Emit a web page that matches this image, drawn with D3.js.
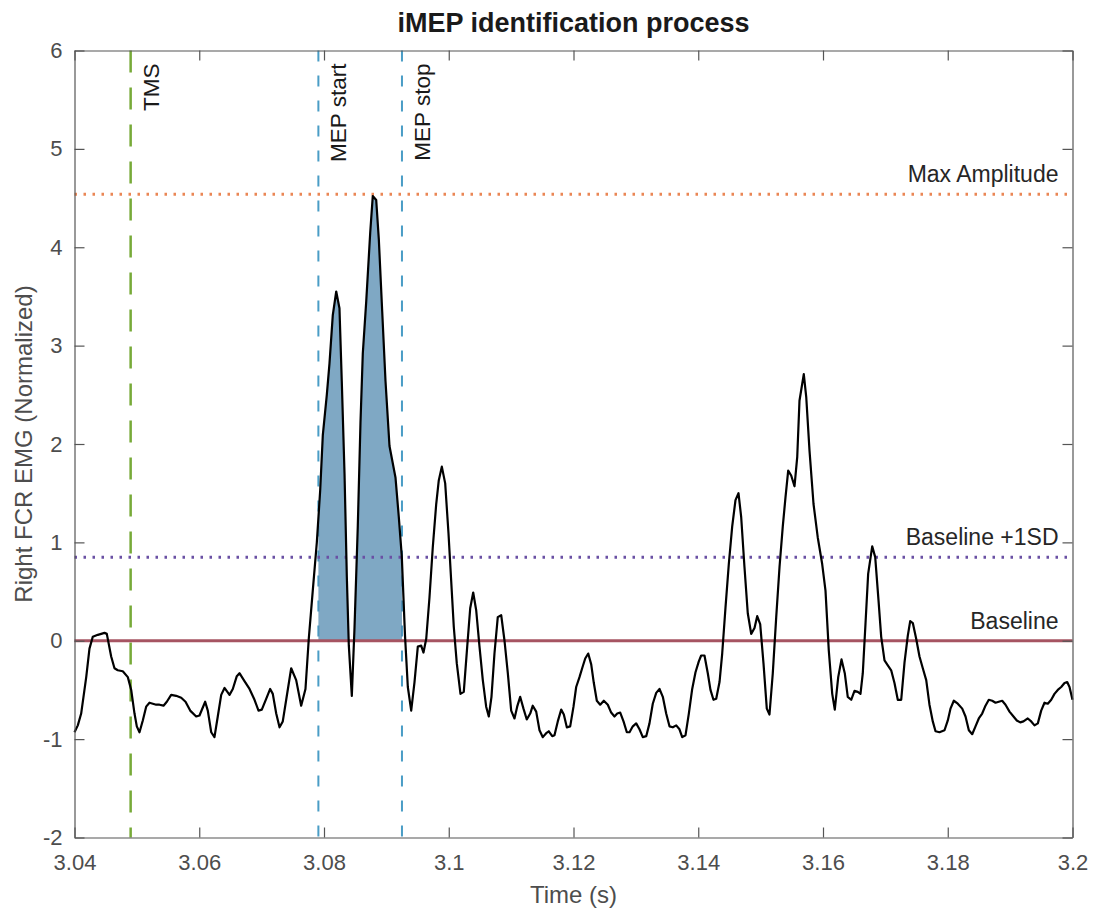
<!DOCTYPE html>
<html>
<head>
<meta charset="utf-8">
<script src="https://cdn.jsdelivr.net/npm/d3@7"></script>
<style>
  body { margin: 0; background: #fff; }
  text { font-family: "Liberation Sans", Arial, Helvetica, sans-serif; }
</style>
</head>
<body>
<div id="chart"></div>
<script>
// EMG trace (time in s, amplitude normalized)
const times = [
  3.04000, 3.04053, 3.04107, 3.04188, 3.04240, 3.04293, 3.04374, 3.04428, 3.04481, 3.04518,
  3.04588, 3.04641, 3.04694, 3.04774, 3.04855, 3.04909, 3.04962, 3.04999, 3.05042, 3.05095,
  3.05149, 3.05202, 3.05310, 3.05363, 3.05427, 3.05480, 3.05550, 3.05630, 3.05711, 3.05780,
  3.05855, 3.05951, 3.06004, 3.06095, 3.06137, 3.06192, 3.06244, 3.06297, 3.06352, 3.06405,
  3.06485, 3.06538, 3.06602, 3.06645, 3.06725, 3.06806, 3.06886, 3.06950, 3.07003, 3.07073,
  3.07137, 3.07179, 3.07234, 3.07287, 3.07339, 3.07394, 3.07474, 3.07554, 3.07634, 3.07703,
  3.07756, 3.07820, 3.07885, 3.07939, 3.07981, 3.08045, 3.08088, 3.08141, 3.08196, 3.08248,
  3.08285, 3.08329, 3.08366, 3.08398, 3.08446, 3.08489, 3.08542, 3.08585, 3.08622, 3.08677,
  3.08741, 3.08782, 3.08837, 3.08879, 3.08933, 3.08986, 3.09050, 3.09146, 3.09199, 3.09247,
  3.09299, 3.09344, 3.09398, 3.09451, 3.09504, 3.09558, 3.09595, 3.09639, 3.09691, 3.09744,
  3.09799, 3.09840, 3.09889, 3.09943, 3.09996, 3.10039, 3.10081, 3.10129, 3.10188, 3.10241,
  3.10296, 3.10344, 3.10392, 3.10440, 3.10493, 3.10546, 3.10600, 3.10642, 3.10685, 3.10733,
  3.10786, 3.10841, 3.10894, 3.10947, 3.11001, 3.11054, 3.11097, 3.11145, 3.11198, 3.11251,
  3.11306, 3.11347, 3.11402, 3.11455, 3.11508, 3.11562, 3.11604, 3.11659, 3.11695, 3.11748,
  3.11803, 3.11845, 3.11893, 3.11947, 3.12000, 3.12043, 3.12096, 3.12139, 3.12188, 3.12236,
  3.12284, 3.12326, 3.12374, 3.12428, 3.12486, 3.12550, 3.12604, 3.12657, 3.12701, 3.12749,
  3.12802, 3.12855, 3.12898, 3.12951, 3.13005, 3.13058, 3.13111, 3.13166, 3.13218, 3.13271,
  3.13326, 3.13379, 3.13432, 3.13486, 3.13539, 3.13592, 3.13647, 3.13699, 3.13743, 3.13796,
  3.13849, 3.13903, 3.13956, 3.14009, 3.14047, 3.14100, 3.14153, 3.14196, 3.14244, 3.14288,
  3.14341, 3.14384, 3.14437, 3.14490, 3.14544, 3.14597, 3.14645, 3.14688, 3.14741, 3.14794,
  3.14849, 3.14902, 3.14945, 3.14993, 3.15046, 3.15099, 3.15142, 3.15195, 3.15250, 3.15303,
  3.15355, 3.15399, 3.15442, 3.15490, 3.15543, 3.15587, 3.15623, 3.15692, 3.15731, 3.15784,
  3.15848, 3.15916, 3.15987, 3.16040, 3.16093, 3.16148, 3.16189, 3.16244, 3.16297, 3.16349,
  3.16397, 3.16452, 3.16505, 3.16558, 3.16601, 3.16638, 3.16681, 3.16724, 3.16789, 3.16837,
  3.16890, 3.16933, 3.16986, 3.17039, 3.17093, 3.17146, 3.17199, 3.17254, 3.17307, 3.17359,
  3.17398, 3.17440, 3.17494, 3.17547, 3.17600, 3.17655, 3.17707, 3.17760, 3.17804, 3.17868,
  3.17948, 3.18001, 3.18044, 3.18097, 3.18161, 3.18232, 3.18285, 3.18338, 3.18392, 3.18445,
  3.18498, 3.18552, 3.18605, 3.18658, 3.18713, 3.18766, 3.18818, 3.18873, 3.18926, 3.18990,
  3.19054, 3.19107, 3.19162, 3.19214, 3.19283, 3.19338, 3.19391, 3.19444, 3.19498, 3.19551,
  3.19604, 3.19659, 3.19711, 3.19764, 3.19819, 3.19872, 3.19915, 3.19952, 3.20000
];
const emg = [
  -0.93, -0.86, -0.74, -0.37, -0.08, 0.04, 0.06, 0.07, 0.08, 0.07,
  -0.16, -0.28, -0.30, -0.31, -0.37, -0.50, -0.74, -0.87, -0.93, -0.81,
  -0.67, -0.63, -0.65, -0.65, -0.66, -0.62, -0.55, -0.56, -0.58, -0.62,
  -0.71, -0.77, -0.76, -0.62, -0.71, -0.93, -0.98, -0.77, -0.55, -0.48,
  -0.55, -0.49, -0.36, -0.33, -0.41, -0.49, -0.60, -0.71, -0.70, -0.59,
  -0.49, -0.54, -0.74, -0.88, -0.82, -0.60, -0.28, -0.40, -0.66, -0.49,
  0.02, 0.51, 1.00, 1.53, 2.09, 2.50, 2.82, 3.31, 3.55, 3.38,
  2.64, 1.70, 0.65, -0.05, -0.56, 0.13, 1.17, 2.22, 2.92, 3.45,
  4.15, 4.52, 4.48, 4.08, 3.35, 2.64, 1.98, 1.66, 1.26, 0.86,
  0.05, -0.47, -0.71, -0.42, -0.06, -0.05, -0.12, 0.02, 0.44, 0.95,
  1.39, 1.63, 1.77, 1.60, 1.09, 0.61, 0.14, -0.23, -0.54, -0.52,
  -0.06, 0.33, 0.49, 0.31, -0.06, -0.40, -0.67, -0.77, -0.57, -0.13,
  0.24, 0.26, 0.00, -0.33, -0.71, -0.79, -0.67, -0.57, -0.69, -0.80,
  -0.74, -0.66, -0.72, -0.91, -0.98, -0.94, -0.92, -0.97, -0.96, -0.82,
  -0.70, -0.75, -0.88, -0.87, -0.67, -0.47, -0.37, -0.28, -0.18, -0.13,
  -0.24, -0.43, -0.61, -0.65, -0.61, -0.65, -0.73, -0.77, -0.74, -0.73,
  -0.82, -0.93, -0.93, -0.87, -0.84, -0.90, -0.98, -0.97, -0.84, -0.64,
  -0.53, -0.49, -0.57, -0.74, -0.87, -0.88, -0.86, -0.90, -0.98, -0.96,
  -0.74, -0.49, -0.32, -0.21, -0.15, -0.15, -0.33, -0.50, -0.60, -0.59,
  -0.42, -0.13, 0.34, 0.78, 1.16, 1.43, 1.50, 1.26, 0.75, 0.28,
  0.07, 0.13, 0.25, 0.17, -0.23, -0.69, -0.75, -0.33, 0.24, 0.75,
  1.16, 1.46, 1.73, 1.68, 1.57, 1.87, 2.44, 2.71, 2.48, 1.93,
  1.39, 1.05, 0.78, 0.51, -0.10, -0.54, -0.70, -0.37, -0.19, -0.33,
  -0.57, -0.60, -0.51, -0.52, -0.54, -0.33, 0.17, 0.68, 0.96, 0.85,
  0.41, 0.04, -0.20, -0.25, -0.30, -0.43, -0.60, -0.60, -0.22, 0.05,
  0.20, 0.18, 0.02, -0.16, -0.28, -0.40, -0.65, -0.82, -0.92, -0.93,
  -0.91, -0.81, -0.69, -0.61, -0.64, -0.69, -0.77, -0.91, -0.95, -0.87,
  -0.79, -0.74, -0.66, -0.60, -0.61, -0.63, -0.62, -0.61, -0.65, -0.72,
  -0.77, -0.81, -0.83, -0.82, -0.79, -0.82, -0.86, -0.84, -0.71, -0.63,
  -0.64, -0.60, -0.54, -0.50, -0.47, -0.43, -0.42, -0.47, -0.60
];

// event markers (s) and reference levels
const markerNames = ["TMS", "MEP start", "MEP stop"];
const markerTimes = [3.0490, 3.0791, 3.0925];
const levelNames = ["Max Amplitude", "Baseline +1SD", "Baseline"];
const levelValues = [4.54, 0.85, 0];

const xTicks = [3.04, 3.06, 3.08, 3.1, 3.12, 3.14, 3.16, 3.18, 3.2];
const yTicks = [-2, -1, 0, 1, 2, 3, 4, 5, 6];

const W = 1094, H = 909;
const margin = { top: 50.5, right: 21.5, bottom: 71.5, left: 74.5 };
const width = W - margin.left - margin.right;
const height = H - margin.top - margin.bottom;

const svg = d3.select("#chart").append("svg")
  .attr("width", W)
  .attr("height", H);

const g = svg.append("g")
  .attr("transform", "translate(" + margin.left + "," + margin.top + ")");

const x = d3.scaleLinear().domain([3.04, 3.2]).range([0, width]);
const y = d3.scaleLinear().domain([-2, 6]).range([height, 0]);

const data = times.map((t, i) => ({ t: t, v: emg[i] }));

// vertical markers (under the shaded area)
const markerStyle = [
  { color: "#77aa38", dash: "22,15", w: 2.5 },
  { color: "#4a9dc6", dash: "11,14", w: 2 },
  { color: "#4a9dc6", dash: "11,14", w: 2 }
];
markerTimes.forEach((t, i) => {
  g.append("line")
    .attr("x1", x(t)).attr("x2", x(t))
    .attr("y1", 0).attr("y2", height)
    .attr("stroke", markerStyle[i].color)
    .attr("stroke-width", markerStyle[i].w)
    .attr("stroke-dasharray", markerStyle[i].dash);
});

// shaded MEP: area between trace and baseline, inside start/stop, above zero
svg.append("defs").append("clipPath").attr("id", "mepClip")
  .append("rect")
  .attr("x", x(markerTimes[1]))
  .attr("y", 0)
  .attr("width", x(markerTimes[2]) - x(markerTimes[1]))
  .attr("height", y(0));

const area = d3.area()
  .x(d => x(d.t))
  .y0(y(0))
  .y1(d => y(d.v));

g.append("path")
  .datum(data)
  .attr("clip-path", "url(#mepClip)")
  .attr("fill", "rgb(84,139,176)")
  .attr("fill-opacity", 0.75)
  .attr("d", area);

// horizontal levels
const levelStyle = [
  { color: "#ea8655", dash: "2.5,6.5", w: 3 },
  { color: "#6a50a4", dash: "2.5,6.5", w: 3 },
  { color: "#a65462", dash: null, w: 3 }
];
levelValues.forEach((v, i) => {
  g.append("line")
    .attr("x1", 0).attr("x2", width)
    .attr("y1", y(v)).attr("y2", y(v))
    .attr("stroke", levelStyle[i].color)
    .attr("stroke-width", levelStyle[i].w)
    .attr("stroke-dasharray", levelStyle[i].dash);
  g.append("text")
    .attr("x", width - 14)
    .attr("y", y(v) - 12)
    .attr("text-anchor", "end")
    .attr("font-size", 23)
    .attr("fill", "#262626")
    .text(levelNames[i]);
});

// the trace
const line = d3.line()
  .x(d => x(d.t))
  .y(d => y(d.v));

g.append("path")
  .datum(data)
  .attr("fill", "none")
  .attr("stroke", "#000")
  .attr("stroke-width", 2.2)
  .attr("stroke-linejoin", "round")
  .attr("d", line);

// marker labels, rotated
markerTimes.forEach((t, i) => {
  g.append("text")
    .attr("transform", "translate(" + (x(t) + 28) + "," + 13 + ") rotate(-90)")
    .attr("text-anchor", "end")
    .attr("font-size", 22.5)
    .attr("fill", "#1a1a1a")
    .text(markerNames[i]);
});

// axes, ticks pointing inward, box on
const fmt = d => String(+d.toFixed(2));
const axisColor = "#555";

const xAxis = g.append("g")
  .attr("transform", "translate(0," + height + ")")
  .call(d3.axisBottom(x).tickValues(xTicks).tickFormat(fmt).tickSizeInner(-10).tickSizeOuter(0).tickPadding(17));
const xTop = g.append("g")
  .call(d3.axisTop(x).tickValues(xTicks).tickFormat("").tickSizeInner(-10).tickSizeOuter(0));
const yAxis = g.append("g")
  .call(d3.axisLeft(y).tickValues(yTicks).tickFormat(d => String(d)).tickSizeInner(-10).tickSizeOuter(0).tickPadding(12));
const yRight = g.append("g")
  .attr("transform", "translate(" + width + ",0)")
  .call(d3.axisRight(y).tickValues(yTicks).tickFormat("").tickSizeInner(-10).tickSizeOuter(0));

[xAxis, xTop, yAxis, yRight].forEach(a => {
  a.select(".domain").attr("stroke", axisColor).attr("stroke-width", 1.2);
  a.selectAll(".tick line").attr("stroke", axisColor).attr("stroke-width", 1.2);
  a.selectAll(".tick text")
    .attr("font-size", 22)
    .attr("fill", "#4d4d4d")
    .attr("font-family", "Liberation Sans, Arial, sans-serif");
});

// titles
svg.append("text")
  .attr("x", margin.left + width / 2)
  .attr("y", 32)
  .attr("text-anchor", "middle")
  .attr("font-size", 27)
  .attr("font-weight", "bold")
  .attr("fill", "#1a1a1a")
  .text("iMEP identification process");

svg.append("text")
  .attr("x", margin.left + width / 2)
  .attr("y", 903)
  .attr("text-anchor", "middle")
  .attr("font-size", 24)
  .attr("fill", "#4d4d4d")
  .text("Time (s)");

svg.append("text")
  .attr("transform", "translate(32," + (margin.top + height / 2) + ") rotate(-90)")
  .attr("text-anchor", "middle")
  .attr("font-size", 24)
  .attr("fill", "#4d4d4d")
  .text("Right FCR EMG (Normalized)");
</script>
</body>
</html>
